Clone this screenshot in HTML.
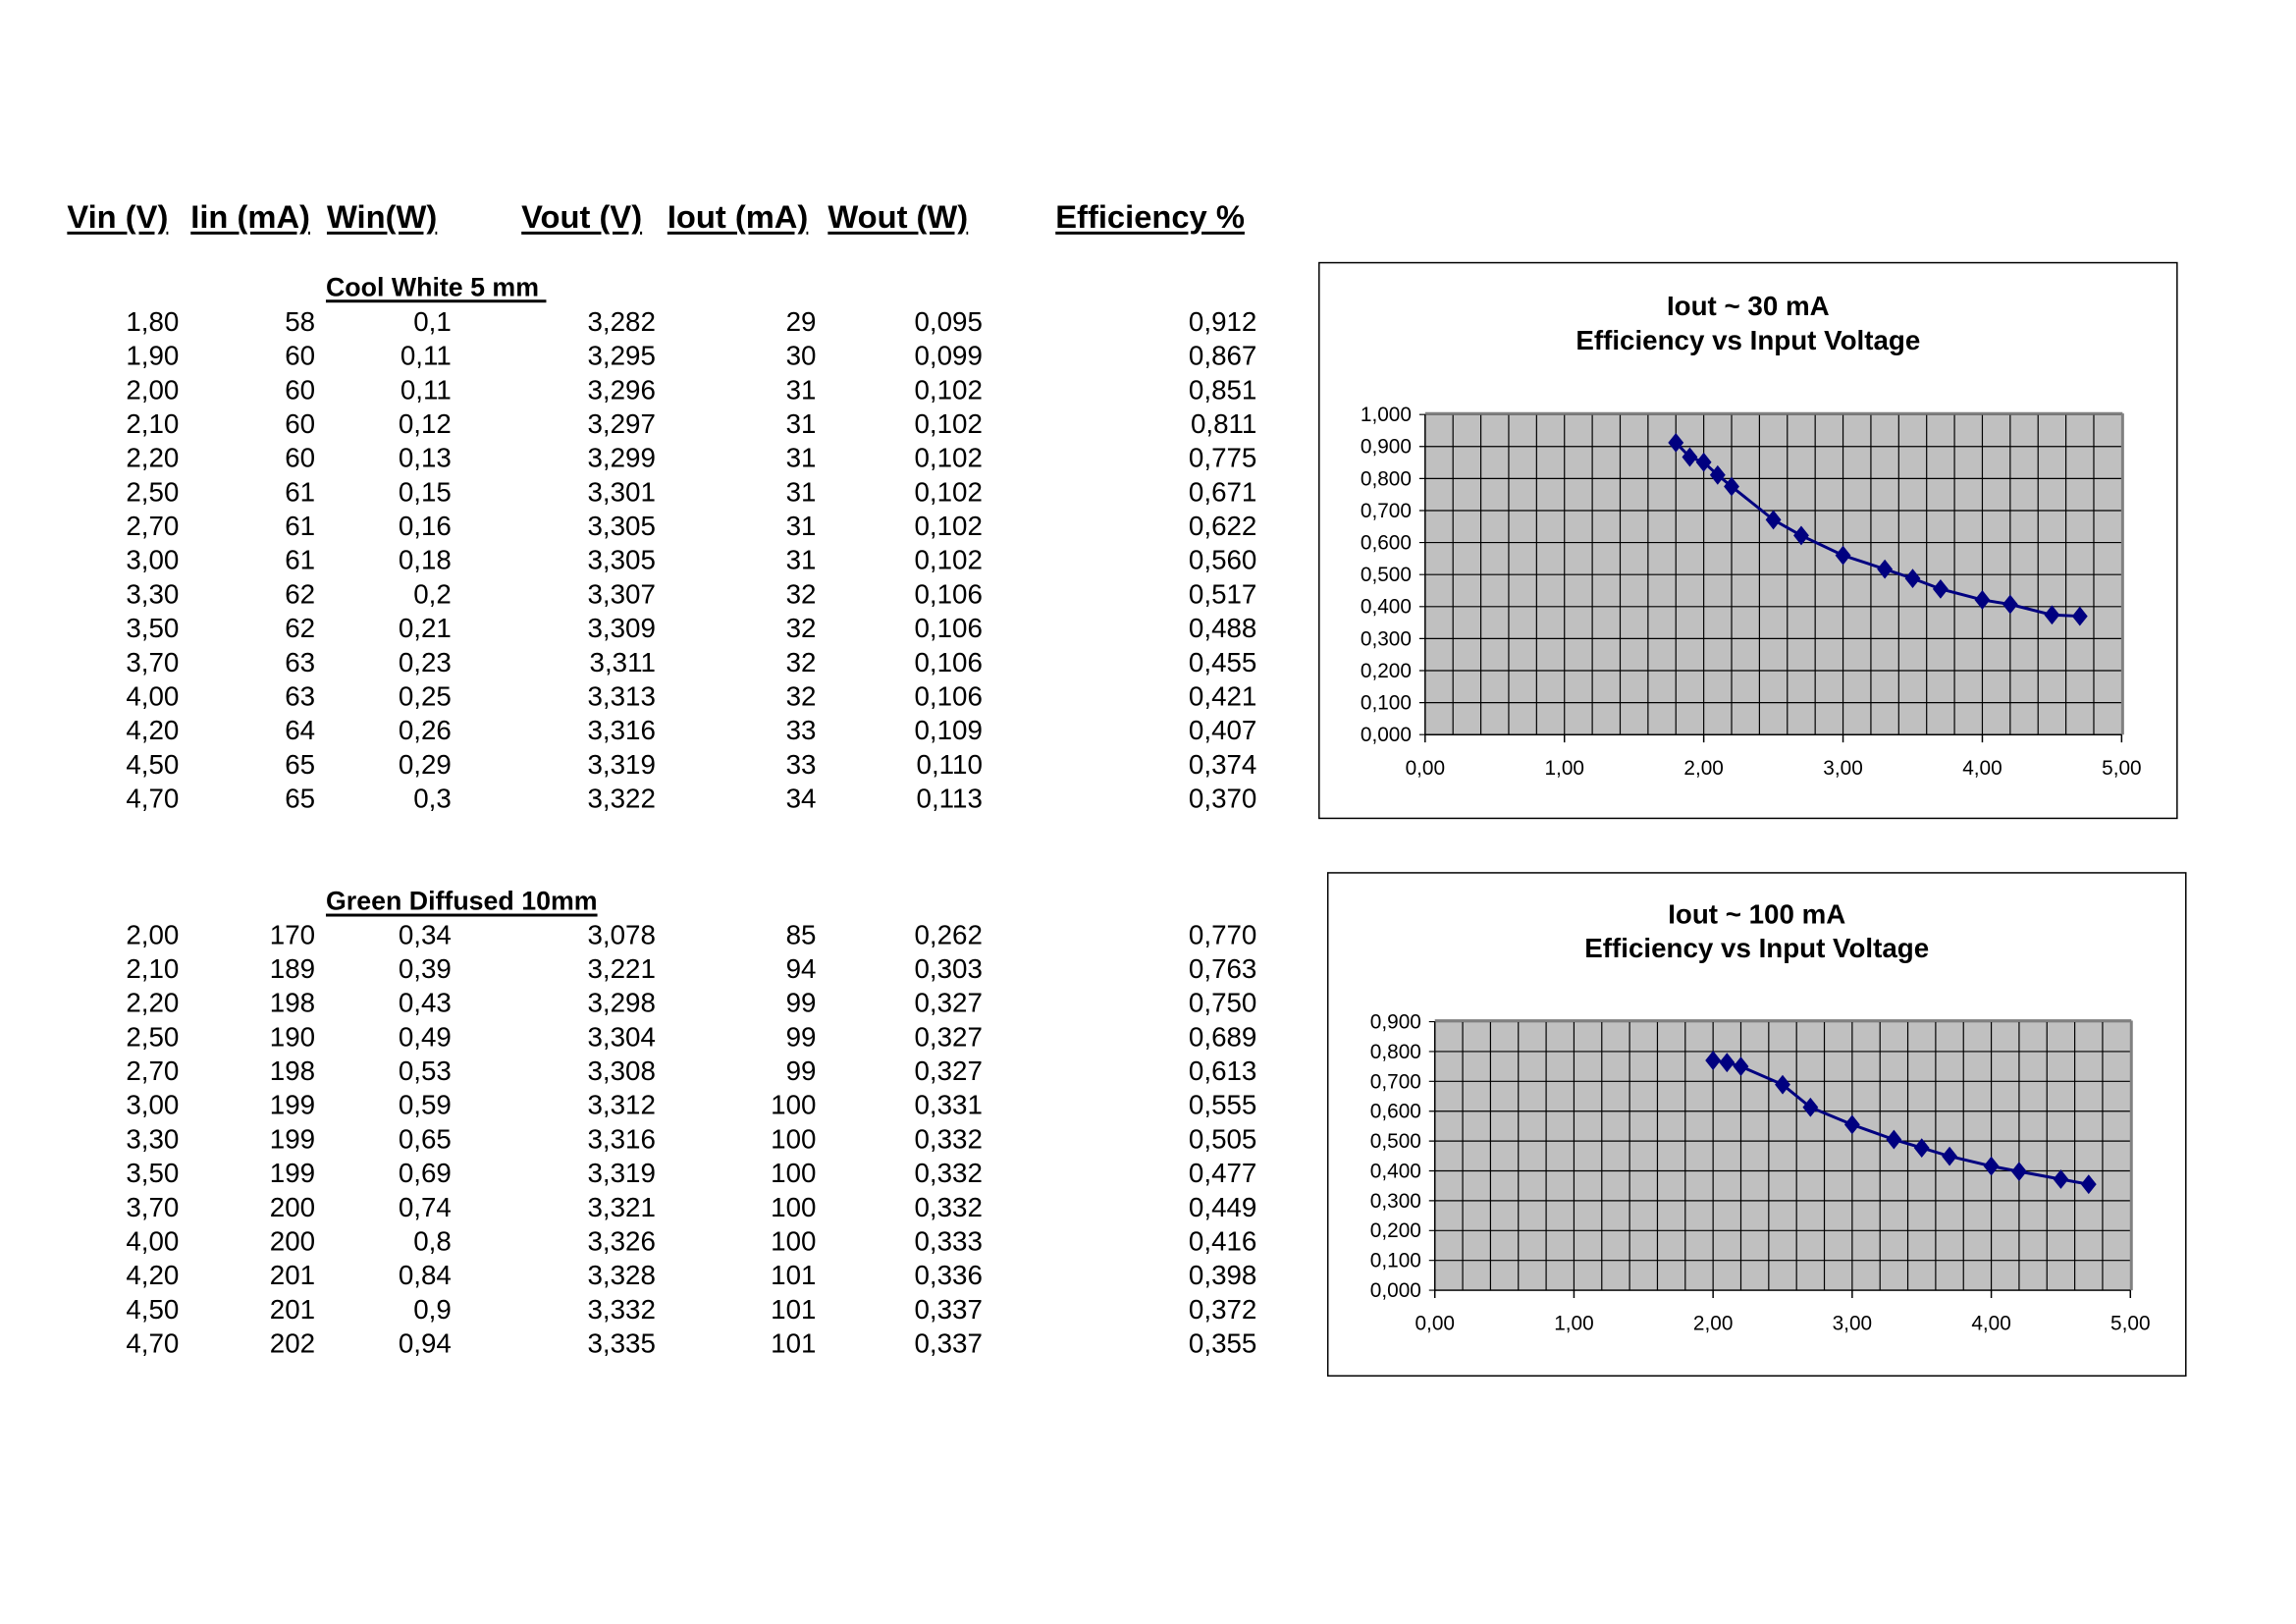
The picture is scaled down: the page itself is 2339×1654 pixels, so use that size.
<!DOCTYPE html>
<html><head><meta charset="utf-8">
<style>
html,body{margin:0;padding:0;background:#fff;}
#page{position:relative;width:2339px;height:1654px;overflow:hidden;font-family:"Liberation Sans",Arial,sans-serif;color:#000;}
#inner{position:absolute;left:0;top:0;width:2339px;height:1654px;transform:scale(0.991);transform-origin:0 0;}
.h{position:absolute;font-weight:bold;font-size:33px;text-decoration:underline;text-decoration-thickness:3px;text-underline-offset:4px;white-space:nowrap;line-height:1;}
.sec{position:absolute;font-weight:bold;font-size:27px;text-decoration:underline;text-decoration-thickness:3px;text-underline-offset:4px;white-space:nowrap;line-height:1;}
.c{position:absolute;font-size:28px;line-height:1;white-space:nowrap;text-align:right;width:200px;}
svg text{font-family:"Liberation Sans",Arial,sans-serif;}
</style></head>
<body>
<div id="page">
<div id="inner">
<div class="h" style="left:69px;top:206px">Vin (V)</div>
<div class="h" style="left:196px;top:206px">Iin (mA)</div>
<div class="h" style="left:336px;top:206px">Win(W)</div>
<div class="h" style="left:536px;top:206px">Vout (V)</div>
<div class="h" style="left:686px;top:206px">Iout (mA)</div>
<div class="h" style="left:851px;top:206px">Wout (W)</div>
<div class="h" style="left:1085px;top:206px">Efficiency %</div>
<div class="sec" style="left:335px;top:282px">Cool White 5 mm&nbsp;</div>
<div class="sec" style="left:335px;top:913px">Green Diffused 10mm</div>
<div id="tables"></div>
<svg id="chart1" style="position:absolute;left:0;top:0" width="2339" height="1654"></svg>
</div>
</div>
<script>
const vin1 = ["1,80","1,90","2,00","2,10","2,20","2,50","2,70","3,00","3,30","3,50","3,70","4,00","4,20","4,50","4,70"];
const iin1 = ["58","60","60","60","60","61","61","61","62","62","63","63","64","65","65"];
const win1 = ["0,1","0,11","0,11","0,12","0,13","0,15","0,16","0,18","0,2","0,21","0,23","0,25","0,26","0,29","0,3"];
const vout1 = ["3,282","3,295","3,296","3,297","3,299","3,301","3,305","3,305","3,307","3,309","3,311","3,313","3,316","3,319","3,322"];
const iout1 = ["29","30","31","31","31","31","31","31","32","32","32","32","33","33","34"];
const wout1 = ["0,095","0,099","0,102","0,102","0,102","0,102","0,102","0,102","0,106","0,106","0,106","0,106","0,109","0,110","0,113"];
const eff1 = ["0,912","0,867","0,851","0,811","0,775","0,671","0,622","0,560","0,517","0,488","0,455","0,421","0,407","0,374","0,370"];
const vin2 = ["2,00","2,10","2,20","2,50","2,70","3,00","3,30","3,50","3,70","4,00","4,20","4,50","4,70"];
const iin2 = ["170","189","198","190","198","199","199","199","200","200","201","201","202"];
const win2 = ["0,34","0,39","0,43","0,49","0,53","0,59","0,65","0,69","0,74","0,8","0,84","0,9","0,94"];
const vout2 = ["3,078","3,221","3,298","3,304","3,308","3,312","3,316","3,319","3,321","3,326","3,328","3,332","3,335"];
const iout2 = ["85","94","99","99","99","100","100","100","100","100","101","101","101"];
const wout2 = ["0,262","0,303","0,327","0,327","0,327","0,331","0,332","0,332","0,332","0,333","0,336","0,337","0,337"];
const eff2 = ["0,770","0,763","0,750","0,689","0,613","0,555","0,505","0,477","0,449","0,416","0,398","0,372","0,355"];
const yTicks1 = ["0,000","0,100","0,200","0,300","0,400","0,500","0,600","0,700","0,800","0,900","1,000"];
const yTicks2 = ["0,000","0,100","0,200","0,300","0,400","0,500","0,600","0,700","0,800","0,900"];
const xTicks = ["0,00","1,00","2,00","3,00","4,00","5,00"];

const num = s => parseFloat(s.replace(',', '.'));
const rights = [184,324,464,674,839,1010,1292];
const tables = document.getElementById('tables');
function buildTable(cols, y0, prefix){
  cols.forEach((col, ci) => {
    col.forEach((v, ri) => {
      const d = document.createElement('div');
      d.className = 'c';
      d.style.left = (rights[ci] - 200) + 'px';
      d.style.top = (y0 + ri * 35 - 14) + 'px';
      d.textContent = v;
      
      
      tables.appendChild(d);
    });
  });
}
buildTable([vin1,iin1,win1,vout1,iout1,wout1,eff1], 331, 'cool-white');
buildTable([vin2,iin2,win2,vout2,iout2,wout2,eff2], 961, 'green-diffused');

const NS = 'http://www.w3.org/2000/svg';
const svg = document.getElementById('chart1');
function el(tag, attrs, parent){
  const e = document.createElementNS(NS, tag);
  for (const k in attrs) e.setAttribute(k, attrs[k]);
  (parent || svg).appendChild(e);
  return e;
}
function drawChart(cfg){
  const g = el('g', {});
  
  
  const frame = el('rect', {x:cfg.box[0], y:cfg.box[1], width:cfg.box[2]-cfg.box[0], height:cfg.box[3]-cfg.box[1], fill:'#fff', stroke:'#000', 'stroke-width':1.5}, g);
  
  
  const cx = (cfg.box[0]+cfg.box[2])/2;
  const t1 = el('text', {x:cx, y:cfg.t1y, 'text-anchor':'middle', 'font-size':28, 'font-weight':'bold'}, g);
  t1.textContent = cfg.title1;
  
  
  const t2 = el('text', {x:cx, y:cfg.t1y+35, 'text-anchor':'middle', 'font-size':28, 'font-weight':'bold'}, g);
  t2.textContent = 'Efficiency vs Input Voltage';
  
  
  const [L, R, T, B] = cfg.plot;
  const ymax = cfg.ymax;
  const xs = v => L + (v / 5) * (R - L);
  const ys = v => B - (v / ymax) * (B - T);
  const pa = el('rect', {x:L, y:T, width:R-L, height:B-T, fill:'#c0c0c0'}, g);
  
  
  for (let i = 1; i < 25; i++) {
    const x = xs(i * 0.2);
    el('line', {x1:x, y1:T, x2:x, y2:B, stroke:'#000', 'stroke-width':1.2}, g);
  }
  cfg.yTicks.forEach(t => {
    const y = ys(num(t));
    el('line', {x1:L-6, y1:y, x2:R, y2:y, stroke:'#000', 'stroke-width':1.2}, g);
    const tx = el('text', {x:L-14, y:y+7, 'text-anchor':'end', 'font-size':21}, g);
    tx.textContent = t;
    
    
  });
  el('line', {x1:L, y1:T-1, x2:R+1, y2:T-1, stroke:'#808080', 'stroke-width':3}, g);
  el('line', {x1:R+1, y1:T-1, x2:R+1, y2:B, stroke:'#808080', 'stroke-width':3}, g);
  el('line', {x1:L, y1:T, x2:L, y2:B, stroke:'#000', 'stroke-width':1.5}, g);
  el('line', {x1:L, y1:B, x2:R, y2:B, stroke:'#000', 'stroke-width':1.5}, g);
  xTicks.forEach(t => {
    const x = xs(num(t));
    el('line', {x1:x, y1:B, x2:x, y2:B+8, stroke:'#000', 'stroke-width':1.5}, g);
    const tx = el('text', {x:x, y:B+41, 'text-anchor':'middle', 'font-size':21}, g);
    tx.textContent = t;
    
    
  });
  const pts = cfg.xv.map((v, i) => [xs(num(v)), ys(num(cfg.yv[i]))]);
  const line = el('polyline', {points:pts.map(p => p.join(',')).join(' '), fill:'none', stroke:'#000080', 'stroke-width':3}, g);
  
  
  pts.forEach(p => {
    const m = el('polygon', {points:`${p[0]},${p[1]-10} ${p[0]+8},${p[1]} ${p[0]},${p[1]+10} ${p[0]-8},${p[1]}`, fill:'#000080'}, g);
    
    
  });
}
drawChart({name:'chart-iout-30ma', box:[1356,270,2238,841], title1:'Iout ~ 30 mA', t1y:324, plot:[1465,2181,426,755], ymax:1.0, yTicks:yTicks1, xv:vin1, yv:eff1});
drawChart({name:'chart-iout-100ma', box:[1365,897,2247,1414], title1:'Iout ~ 100 mA', t1y:949, plot:[1475,2190,1050,1326], ymax:0.9, yTicks:yTicks2, xv:vin2, yv:eff2});
</script>
</body></html>
